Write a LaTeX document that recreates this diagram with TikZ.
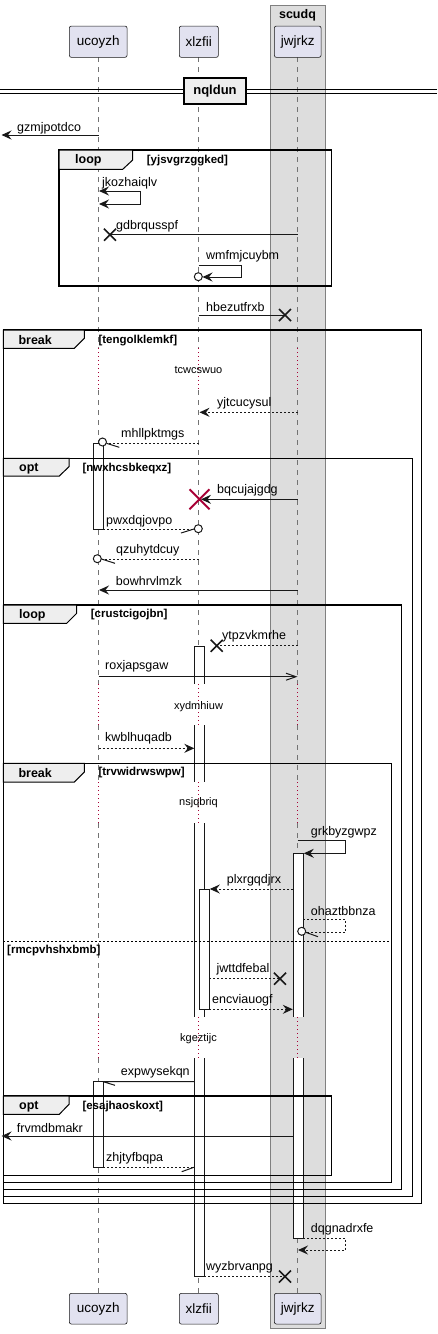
\documentclass[tikz,border=0pt]{standalone}
\usepackage{fontspec}
\setmainfont{Liberation Sans}
\usetikzlibrary{arrows.meta}
\definecolor{partfill}{HTML}{E2E2F0}
\definecolor{boxfill}{HTML}{DDDDDD}
\definecolor{tabfill}{HTML}{EEEEEE}
\definecolor{dline}{HTML}{181818}
\definecolor{delayc}{HTML}{A80036}
\tikzset{
  msgtxt/.style={font=\fontsize{12.5}{14}\selectfont, inner sep=0pt, anchor=west},
  delaytxt/.style={font=\fontsize{11}{13}\selectfont, inner sep=0pt},
  msg/.style={line width=1pt, draw=dline},
  dmsg/.style={msg, dash pattern=on 2pt off 2pt},
  life/.style={draw=black!55, line width=0.8pt, dash pattern=on 5pt off 5pt},
  delayl/.style={draw=delayc, line width=1pt, dash pattern=on 1pt off 3pt},
  part/.style={draw=dline, fill=partfill, line width=0.6pt, rounded corners=2pt, font=\fontsize{13.5}{15}\selectfont, inner sep=0pt},
  frm/.style={draw=black, line width=1.5pt},
  tabs/.style={draw=black, fill=tabfill, line width=1pt},
  kw/.style={font=\bfseries\fontsize{12.5}{14}\selectfont, inner sep=0pt, anchor=west},
  guard/.style={font=\bfseries\fontsize{11.5}{13}\selectfont, inner sep=0pt, anchor=west},
  xmark/.style={line width=1.6pt, draw=dline},
  rxmark/.style={line width=2pt, draw=delayc},
  circ/.style={draw=dline, fill=white, line width=1pt},
  barl/.style={draw=dline, line width=1pt},
  fh/.tip={Stealth[length=10pt,width=9pt,inset=3.5pt]},
  oh/.tip={Straight Barb[length=10pt,width=7pt]}
}
\begin{document}
\begin{tikzpicture}[x=1pt,y=-1pt]
\useasboundingbox (0,0) rectangle (437,1334);
\fill[white] (0,0) rectangle (437,1334);
% box scudq
\draw[fill=boxfill, draw=black!50, line width=0.8pt] (270,5.7) rectangle (325,1328);
\node[font=\bfseries\fontsize{12.5}{14}\selectfont, inner sep=0pt] (boxt) at (297.5,15) {scudq};
% lifelines
\foreach \x in {98.5,198.5,297.5}{
  \foreach \a/\b in {57.3/348,390/684,725/782,823/1017,1058/1293.3}{\draw[life] (\x,\a) -- (\x,\b);}
  \foreach \a/\b in {348/390,684/725,782/823,1017/1058}{\draw[delayl] (\x,\a) -- (\x,\b);}
}
% activation bars
\foreach \a/\b in {646/684,725/782,823/1017,1058/1276.3}{
  \fill[white] (194.3,\a) rectangle (204.3,\b);
  \draw[barl] (194.3,\a) -- (194.3,\b) (204.3,\a) -- (204.3,\b);}
\draw[barl] (194.3,646) -- (204.3,646) (194.3,1276.3) -- (204.3,1276.3);
\foreach \a/\b in {853.3/1017,1058/1238}{
  \fill[white] (293.3,\a) rectangle (303.3,\b);
  \draw[barl] (293.3,\a) -- (293.3,\b) (303.3,\a) -- (303.3,\b);}
\draw[barl] (293.3,853.3) -- (303.3,853.3) (293.3,1238) -- (303.3,1238);
\draw[barl, fill=white] (199.3,889) rectangle (209.3,1009.3);
\draw[barl, fill=white] (93.3,443.3) rectangle (103.3,529);
\draw[barl, fill=white] (93.3,1081.7) rectangle (103.3,1167.3);
% frames
\draw[frm] (59,150) rectangle (331.7,286);
\draw[frm] (3.3,330) rectangle (421.7,1203.3);
\draw[frm] (3.3,458.3) rectangle (412.3,1196.7);
\draw[frm] (3.3,605) rectangle (401.7,1189.3);
\draw[frm] (3.3,763.3) rectangle (391.7,1182.3);
\draw[frm] (3.3,1096) rectangle (331.7,1175.7);
\draw[tabs] (59,150) -- (132.7,150) -- (132.7,160) -- (122.7,169.3) -- (59,169.3) -- cycle;
\draw[tabs] (3.3,330) -- (84.3,330) -- (84.3,338.3) -- (74.3,348.3) -- (3.3,348.3) -- cycle;
\draw[tabs] (3.3,458.3) -- (69,458.3) -- (69,466.7) -- (59.3,476) -- (3.3,476) -- cycle;
\draw[tabs] (3.3,605) -- (76.7,605) -- (76.7,613.3) -- (66.7,623.3) -- (3.3,623.3) -- cycle;
\draw[tabs] (3.3,763.3) -- (84.3,763.3) -- (84.3,772) -- (74.3,782) -- (3.3,782) -- cycle;
\draw[tabs] (3.3,1096) -- (69,1096) -- (69,1104.3) -- (59.3,1114.3) -- (3.3,1114.3) -- cycle;
\node[kw] (k1) at (75,160.7) {loop};
\node[guard] (g1) at (146.7,160.7) {[yjsvgrzggked]};
\node[kw] (k2) at (18.3,340.3) {break};
\node[guard] (g2) at (98.3,340.3) {[tengolklemkf]};
\node[kw] (k3) at (19,468.3) {opt};
\node[guard] (g3) at (82.3,468.3) {[nwxhcsbkeqxz]};
\node[kw] (k4) at (19,615) {loop};
\node[guard] (g4) at (90.7,615) {[crustcigojbn]};
\node[kw] (k5) at (18.3,773) {break};
\node[guard] (g5) at (98.3,773) {[trvwidrwswpw]};
\node[kw] (k6) at (19,1106.3) {opt};
\node[guard] (g6) at (82.3,1106.3) {[esajhaoskoxt]};
% else separator
\coordinate (e1) at (3.3,941); \coordinate (e2) at (391.7,941);
\draw[line width=1pt, dash pattern=on 2pt off 2pt] (e1) -- (e2);
\node[guard] (g7) at (7,950.3) {[rmcpvhshxbmb]};
% divider
\draw[line width=1pt] (0,89) -- (437,89) (0,93.3) -- (437,93.3);
\node[draw=black, line width=1.6pt, fill=tabfill, minimum width=62pt, minimum height=26pt, inner sep=0pt, font=\bfseries\fontsize{13}{15}\selectfont] (dv) at (215,91) {nqldun};
% participants
\node[part, minimum width=57.7pt, minimum height=31.3pt] (pu) at (98.2,41.7) {ucoyzh};
\node[part, minimum width=39pt, minimum height=31.3pt] (px) at (198.8,41.7) {xlzfii};
\node[part, minimum width=46.7pt, minimum height=31.3pt] (pj) at (297.7,41.7) {jwjrkz};
\node[part, minimum width=57.7pt, minimum height=30.7pt] (pub) at (98.2,1308.7) {ucoyzh};
\node[part, minimum width=39pt, minimum height=30.7pt] (pxb) at (198.8,1308.7) {xlzfii};
\node[part, minimum width=46.7pt, minimum height=30.7pt] (pjb) at (297.7,1308.7) {jwjrkz};
% messages
\coordinate (m1a) at (98.5,135); \coordinate (m1b) at (1.5,135);
\draw[msg,-fh] (m1a) -- (m1b);
\node[msgtxt] (t1) at (17,128) {gzmjpotdco};
\coordinate (m2a) at (99,191); \coordinate (m2b) at (99,204);
\draw[msg,fh-fh] (m2a) -- (140.3,191) -- (140.3,204) -- (m2b);
\node[msgtxt] (t2) at (102,183) {jkozhaiqlv};
\coordinate (m3a) at (297.5,234.7); \coordinate (m3b) at (110,234.7);
\draw[msg] (m3a) -- (m3b);
\draw[xmark] (m3b) +(-6,-6) -- +(6,6) (m3b) +(-6,6) -- +(6,-6);
\node[msgtxt] (t3) at (116,226) {gdbrqusspf};
\coordinate (m4a) at (198.5,265); \coordinate (m4b) at (202.5,277); \coordinate (m4c) at (198.3,276.7);
\draw[msg,-fh] (m4a) -- (241.3,265) -- (241.3,277) -- (m4b);
\draw[circ] (m4c) circle (4pt);
\node[msgtxt] (t4) at (206,256) {wmfmjcuybm};
\coordinate (m5a) at (198.5,315); \coordinate (m5b) at (285,315);
\draw[msg] (m5a) -- (m5b);
\draw[xmark] (m5b) +(-6,-6) -- +(6,6) (m5b) +(-6,6) -- +(6,-6);
\node[msgtxt] (t5) at (206,306.7) {hbezutfrxb};
\node[delaytxt] (d1) at (198.5,370) {tcwcswuo};
\coordinate (m6a) at (297.5,412.3); \coordinate (m6b) at (199.5,412.3);
\draw[dmsg,-fh] (m6a) -- (m6b);
\node[msgtxt] (t6) at (217,403) {yjtcucysul};
\coordinate (m7a) at (198.5,443.3); \coordinate (m7b) at (106.5,443.3); \coordinate (m7c) at (102.5,442);
\draw[dmsg] (m7a) -- (m7b);
\draw[msg] (m7b) -- (119.3,447.3);
\draw[circ] (m7c) circle (4pt);
\node[msgtxt] (t7) at (121,434) {mhllpktmgs};
\coordinate (m8a) at (297.5,499.3); \coordinate (m8b) at (201,499.3);
\draw[msg,-fh] (m8a) -- (m8b);
\draw[rxmark] (199.5,499.3) +(-10,-10) -- +(10,10) (199.5,499.3) +(-10,10) -- +(10,-10);
\node[msgtxt] (t8) at (217,490) {bqcujajgdg};
\coordinate (m9a) at (103.3,529); \coordinate (m9b) at (194,529); \coordinate (m9c) at (198.3,528.7);
\draw[dmsg] (m9a) -- (m9b);
\draw[msg] (m9b) -- (181,533);
\draw[circ] (m9c) circle (4pt);
\node[msgtxt] (t9) at (106,521) {pwxdqjovpo};
\coordinate (m10a) at (198.5,559); \coordinate (m10b) at (101.5,559); \coordinate (m10c) at (97.3,558.7);
\draw[dmsg] (m10a) -- (m10b);
\draw[msg] (m10b) -- (115,563.3);
\draw[circ] (m10c) circle (4pt);
\node[msgtxt] (t10) at (116,550.7) {qzuhytdcuy};
\coordinate (m11a) at (297.5,590); \coordinate (m11b) at (99,590);
\draw[msg,-fh] (m11a) -- (m11b);
\node[msgtxt] (t11) at (115.7,580.7) {bowhrvlmzk};
\coordinate (m12a) at (297.5,645.7); \coordinate (m12b) at (216.7,645.7);
\draw[dmsg] (m12a) -- (m12b);
\draw[xmark] (m12b) +(-6,-6) -- +(6,6) (m12b) +(-6,6) -- +(6,-6);
\node[msgtxt] (t12) at (222,636.7) {ytpzvkmrhe};
\coordinate (m13a) at (98.5,676.7); \coordinate (m13b) at (297.5,676.7);
\draw[msg,-oh] (m13a) -- (m13b);
\node[msgtxt] (t13) at (105,666.7) {roxjapsgaw};
\node[delaytxt] (d2) at (198.5,706.7) {xydmhiuw};
\coordinate (m14a) at (98.5,748.3); \coordinate (m14b) at (194.3,748.3);
\draw[dmsg,-fh] (m14a) -- (m14b);
\node[msgtxt] (t14) at (105,738) {kwblhuqadb};
\node[delaytxt] (d3) at (198.5,803) {nsjqbriq};
\coordinate (m15a) at (297.5,840); \coordinate (m15b) at (303.8,853.3);
\draw[msg,-fh] (m15a) -- (345.7,840) -- (345.7,853.3) -- (m15b);
\node[msgtxt] (t15) at (310.7,832) {grkbyzgwpz};
\coordinate (m16a) at (293.3,889); \coordinate (m16b) at (209.8,889);
\draw[dmsg,-fh] (m16a) -- (m16b);
\node[msgtxt] (t16) at (226.7,880) {plxrgqdjrx};
\coordinate (m17a) at (303.3,919.3); \coordinate (m17b) at (305.7,932.3); \coordinate (m17c) at (301.7,931.3);
\draw[dmsg] (m17a) -- (345.7,919.3) -- (345.7,932.3) -- (m17b);
\draw[msg] (m17b) -- (318,936.7);
\draw[circ] (m17c) circle (4pt);
\node[msgtxt] (t17) at (310.7,911) {ohaztbbnza};
\node[delaytxt] (d4) at (198.5,1039) {kgeztijc};
\coordinate (m18a) at (209.3,978.7); \coordinate (m18b) at (280,978.7);
\draw[dmsg] (m18a) -- (m18b);
\draw[xmark] (m18b) +(-6,-6) -- +(6,6) (m18b) +(-6,6) -- +(6,-6);
\node[msgtxt] (t18) at (216.3,969) {jwttdfebal};
\coordinate (m19a) at (209.3,1009.3); \coordinate (m19b) at (292.8,1009.3);
\draw[dmsg,-fh] (m19a) -- (m19b);
\node[msgtxt] (t19) at (212,1000) {encviauogf};
\coordinate (m20a) at (194.3,1081.7); \coordinate (m20b) at (103.3,1081.7);
\draw[msg] (m20a) -- (m20b) -- (115,1085.3);
\node[msgtxt] (t20) at (120.7,1072) {expwysekqn};
\coordinate (m21a) at (293.3,1136); \coordinate (m21b) at (1.5,1136);
\draw[msg,-fh] (m21a) -- (m21b);
\node[msgtxt] (t21) at (16.7,1127.7) {frvmdbmakr};
\coordinate (m22a) at (103.3,1167.3); \coordinate (m22b) at (193.8,1167.3);
\draw[dmsg] (m22a) -- (m22b);
\draw[msg] (m22b) -- (181.7,1171.7);
\node[msgtxt] (t22) at (106,1158) {zhjtyfbqpa};
\coordinate (m23a) at (303.3,1238); \coordinate (m23b) at (298,1250);
\draw[dmsg,-fh] (m23a) -- (345.7,1238) -- (345.7,1250) -- (m23b);
\node[msgtxt] (t23) at (310.7,1229) {dqgnadrxfe};
\coordinate (m24a) at (204.3,1276.5); \coordinate (m24b) at (285,1276.5);
\draw[dmsg] (m24a) -- (m24b);
\draw[xmark] (m24b) +(-6,-6) -- +(6,6) (m24b) +(-6,6) -- +(6,-6);
\node[msgtxt] (t24) at (206,1267) {wyzbrvanpg};
\end{tikzpicture}
\end{document}
